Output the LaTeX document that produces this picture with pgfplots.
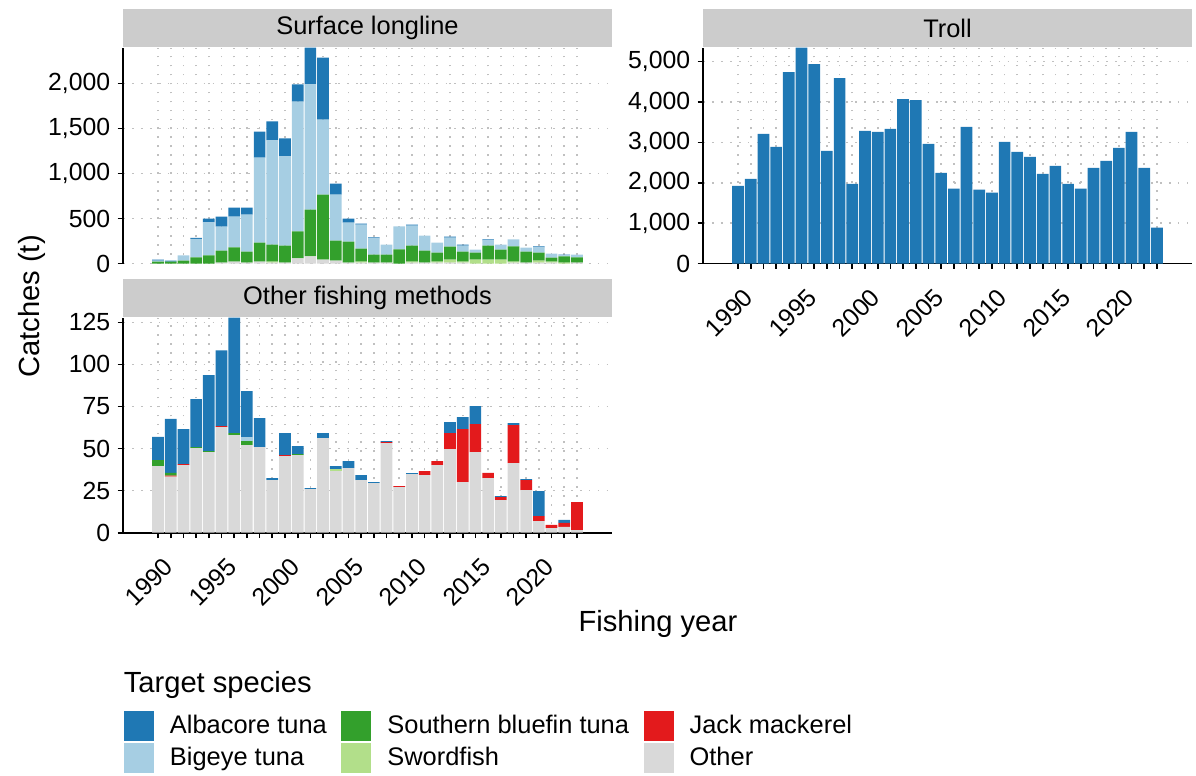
\documentclass[border=0pt]{standalone}
\usepackage{fontspec}
\setmainfont{Liberation Sans}
\usepackage{pgfplots}
\usepackage{pgfplotstable}
\pgfplotsset{compat=1.18}

\definecolor{albacore}{HTML}{1F78B4}
\definecolor{bigeye}{HTML}{A6CEE3}
\definecolor{sbt}{HTML}{33A02C}
\definecolor{sword}{HTML}{B2DF8A}
\definecolor{jack}{HTML}{E31A1C}
\definecolor{other}{HTML}{D9D9D9}
\definecolor{strip}{HTML}{CCCCCC}
\definecolor{gridgray}{HTML}{C0C0C0}

\newcommand\ticksize{\fontsize{11.9}{13}\selectfont}
\newcommand\stripsize{\fontsize{12.2}{14}\selectfont}
\newcommand\titlesize{\fontsize{14}{16}\selectfont}

% catches (t) by fishing year, stacked bottom to top
\pgfplotstableread{
year other jack sword sbt bigeye albacore
1989 0  0 0  22 11 11
1990 0  0 0  22 0 11
1991 0  0 0  33 56 0
1992 0  0 0  67 207 11
1993 0  0 0  89 367 44
1994 11 0 0  133 267 111
1995 22 0 0  156 344 100
1996 11 0 0  122 411 78
1997 22 0 0  211 944 289
1998 11 0 11 189 1156 211
1999 11 0 0  189 989 200
2000 56 0 0  300 1444 189
2001 78 0 0  522 1389 411
2002 44 0 0  722 833 689
2003 33 0 0  222 511 122
2004 11 0 0  233 211 44
2005 11 0 11 144 267 11
2006 11 0 0  89 178 11
2007 11 0 0  89 111 0
2008 0  0 0  156 256 0
2009 11 0 11 178 222 11
2010 11 0 0  133 167 0
2011 11 0 11 100 111 0
2012 11 0 33 144 100 11
2013 11 0 11 111 67 11
2014 0  0 44 78 33 0
2015 0  0 44 156 56 11
2016 0  0 44 111 56 0
2017 11 0 11 167 78 0
2018 11 0 0  122 44 0
2019 11 0 22 89 56 11
2020 11 0 11 44 44 0
2021 0  0 11 67 11 11
2022 11 0 0  56 33 0
}\surface

\pgfplotstableread{
year albacore
1989 1926
1990 2099
1991 3210
1992 2889
1993 4741
1994 5350
1995 4938
1996 2790
1997 4593
1998 1975
1999 3284
2000 3259
2001 3333
2002 4074
2003 4049
2004 2963
2005 2247
2006 1852
2007 3383
2008 1827
2009 1753
2010 3012
2011 2765
2012 2642
2013 2222
2014 2420
2015 1975
2016 1852
2017 2370
2018 2543
2019 2864
2020 3259
2021 2370
2022 889
}\troll

\pgfplotstableread{
year other jack sword sbt bigeye albacore
1989 39.6 0   0   3.6 0   13.7
1990 33.3 0.6 0   1.6 0   32.1
1991 40.2 0.6 0   0   0   20.8
1992 50.3 0   0   0.6 0   28.5
1993 47.9 0   0   0.6 0   45.1
1994 62.7 0.6 0   0   0   45.1
1995 58.0 0   0   1.2 0   68.7
1996 52.1 0   0   2.4 2.4 27.3
1997 50.9 0   0   0   0   17.2
1998 31.3 0   0   0   0   1.2
1999 45.5 0.6 0   0   0   13.1
2000 46.1 0   0   0.6 0   4.8
2001 25.9 0   0   0   0   0.6
2002 56.2 0   0   0   0   3.0
2003 36.6 0   1.2 0   0   1.8
2004 38.4 0   0   0   0   4.2
2005 31.3 0   0   0   0   3.0
2006 29.5 0   0   0   0   0.6
2007 53.2 0.6 0   0   0   0.6
2008 27.1 0.6 0   0   0   0
2009 34.8 0   0   0   0   0.6
2010 34.2 2.4 0   0   0   0
2011 40.2 2.4 0   0   0   0
2012 49.7 9.5 0   0   0   6.5
2013 30.1 31.5 0  0   0   7.1
2014 47.9 16.6 0  0   0   10.7
2015 32.5 3.0 0   0   0   0
2016 19.4 1.8 0   0   0   0.6
2017 41.4 22.6 0  0   0   1.2
2018 25.3 5.9 0   0   0   0.6
2019 6.9  3.0 0   0   0   14.8
2020 2.8  1.8 0   0   0   0
2021 3.4  2.4 0   0   0   1.8
2022 1.6  16.6 0  0   0   0
}\others

\pgfplotsset{
  panel/.style={
    scale only axis, width=234.72pt, height=103.68pt,
    xmin=1986.24, xmax=2024.76, ymin=0,
    axis lines*=left, axis line style={-, line width=0.8pt},
    tick align=outside, major tick length=2.6pt, minor tick length=2.6pt,
    tick style={black, line width=0.8pt},
    xtick={1990,1995,...,2020},
    minor xtick={1989,...,2022},
    xticklabel style={rotate=45, anchor=north east, font=\ticksize,
      inner sep=1pt, xshift=-7.8pt, yshift=-2.2pt,
      /pgf/number format/1000 sep={}},
    yticklabel style={font=\ticksize, /pgf/number format/1000 sep={,}},
    /pgf/number format/assume math mode=true,
    scaled y ticks=false,
    grid=both,
    major grid style={gridgray, line width=0.8pt, dash pattern=on 0.8pt off 3.5pt},
    minor grid style={gridgray, line width=0.8pt, dash pattern=on 0.8pt off 3.5pt},
    ybar stacked, bar width=0.92,
    every axis title shift=0pt,
    title style={at={(0.5,1)}, anchor=south, fill=strip,
      minimum width=234.72pt, minimum height=18.24pt, inner sep=0pt,
      font=\stripsize},
  },
}

\begin{document}
\begin{tikzpicture}
\path[use as bounding box] (0pt,0pt) rectangle (574.08pt,-372.48pt);

% Surface longline
\begin{axis}[panel, at={(59.04pt,-126.48pt)}, anchor=south west,
  title={Surface longline}, ymax=2400, ytick={0,500,...,2000},
  xticklabels={}, x axis line style={draw=none}, xtick style={draw=none},
  minor x tick style={draw=none}]
\addplot[fill=other, draw=none] table[x=year, y=other] {\surface};
\addplot[fill=jack, draw=none] table[x=year, y=jack] {\surface};
\addplot[fill=sword, draw=none] table[x=year, y=sword] {\surface};
\addplot[fill=sbt, draw=none] table[x=year, y=sbt] {\surface};
\addplot[fill=bigeye, draw=none] table[x=year, y=bigeye] {\surface};
\addplot[fill=albacore, draw=none] table[x=year, y=albacore] {\surface};
\end{axis}

% Troll
\begin{axis}[panel, at={(337.44pt,-126.48pt)}, anchor=south west,
  title={Troll}, ymax=5350, ytick={0,1000,...,5000}]
\addplot[fill=albacore, draw=none] table[x=year, y=albacore] {\troll};
\end{axis}

% Other fishing methods
\begin{axis}[panel, at={(59.04pt,-255.70pt)}, anchor=south west, height=103.3pt,
  title={Other fishing methods}, ymax=127.9, ytick={0,25,...,125}]
\addplot[fill=other, draw=none] table[x=year, y=other] {\others};
\addplot[fill=jack, draw=none] table[x=year, y=jack] {\others};
\addplot[fill=sword, draw=none] table[x=year, y=sword] {\others};
\addplot[fill=sbt, draw=none] table[x=year, y=sbt] {\others};
\addplot[fill=bigeye, draw=none] table[x=year, y=bigeye] {\others};
\addplot[fill=albacore, draw=none] table[x=year, y=albacore] {\others};
\end{axis}

% legend
\begin{axis}[hide axis, scale only axis, width=1pt, height=1pt,
  xmin=0, xmax=1, ymin=0, ymax=1,
  at={(59.52pt,-341.28pt)}, anchor=south west,
  legend columns=3,
  legend style={at={(0,0)}, anchor=north west, draw=none, fill=none,
    inner sep=0pt, outer sep=0pt, font=\stripsize, row sep=0.96pt,
    nodes={inner sep=0pt},
    /tikz/every odd column/.append style={column sep=7.68pt},
    /tikz/every even column/.append style={column sep=7pt}},
  legend cell align=left,
  legend image code/.code={\fill[#1] (0pt,-7.2pt) rectangle (14.4pt,7.2pt);}]
\addlegendimage{fill=albacore, draw=none}
\addlegendentry{Albacore tuna}
\addlegendimage{fill=sbt, draw=none}
\addlegendentry{Southern bluefin tuna}
\addlegendimage{fill=jack, draw=none}
\addlegendentry{Jack mackerel}
\addlegendimage{fill=bigeye, draw=none}
\addlegendentry{Bigeye tuna}
\addlegendimage{fill=sword, draw=none}
\addlegendentry{Swordfish}
\addlegendimage{fill=other, draw=none}
\addlegendentry{Other}
\end{axis}

\node[anchor=base, rotate=90, inner sep=0pt, font=\titlesize] at (19pt,-147.1pt) {Catches (t)};
\node[anchor=base, inner sep=0pt, font=\titlesize] at (315.84pt,-302.9pt) {Fishing year};
\node[anchor=base west, inner sep=0pt, font=\titlesize] at (59.2pt,-332.16pt) {Target species};
\end{tikzpicture}
\end{document}
